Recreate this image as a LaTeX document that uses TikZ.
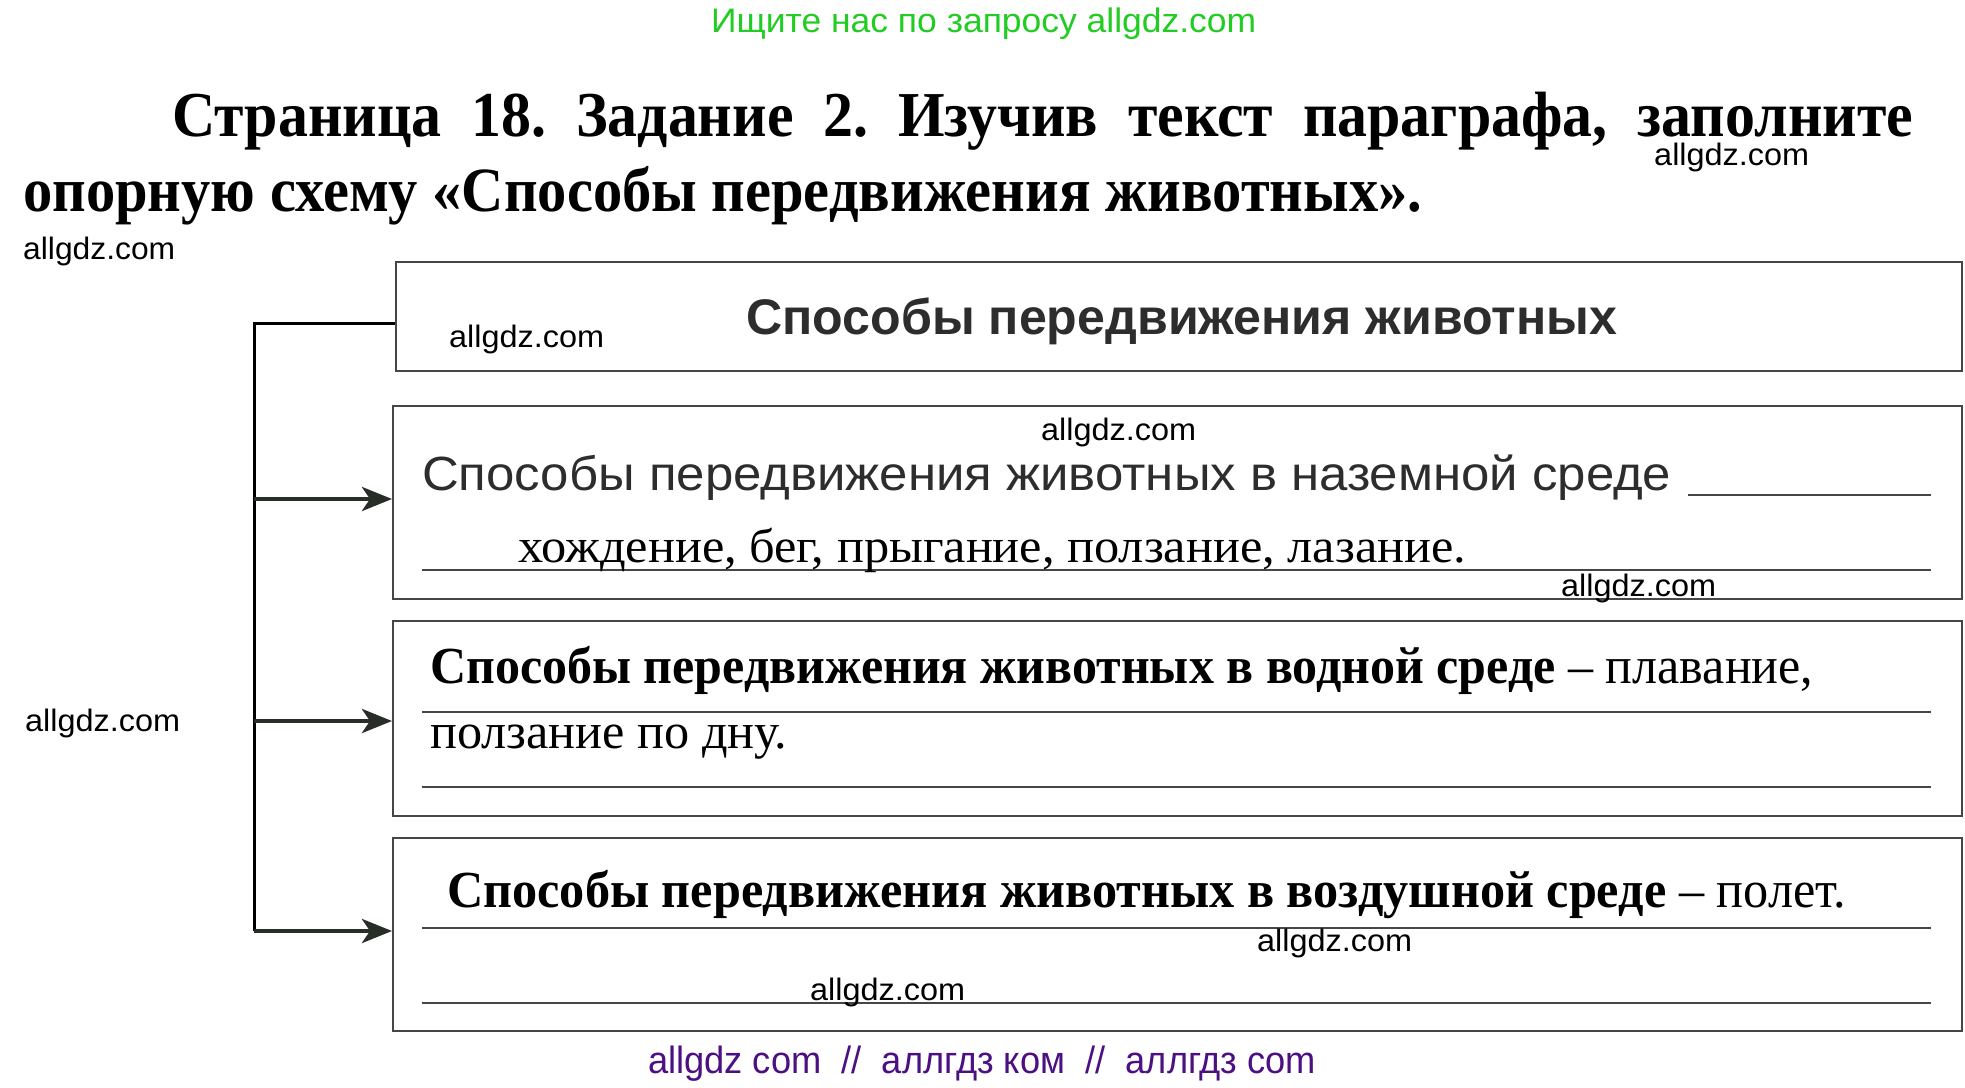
\documentclass[tikz,border=0pt]{standalone}
\usepackage{graphicx}
\usepackage{fontspec}
\setmainfont{Liberation Serif}
\setsansfont{Liberation Sans}
\usetikzlibrary{arrows.meta}
\newcommand{\fitx}[2]{\resizebox{#1}{\height}{#2}}
\definecolor{wmgreen}{RGB}{34,204,34}
\definecolor{wmpurple}{RGB}{76,16,130}
\definecolor{boxgray}{RGB}{70,70,70}
\definecolor{arrowgray}{RGB}{38,46,38}
\definecolor{textgray}{RGB}{45,45,45}
\begin{document}
\begin{tikzpicture}[x=1pt,y=-1pt,
  txt/.style={inner sep=0pt, anchor=base west},
  wm/.style={txt, font=\sffamily\fontsize{31}{31}\selectfont},
  boxst/.style={draw=boxgray, line width=2pt, anchor=north west, inner sep=0pt},
  rule/.style={draw=boxgray, line width=2.5pt},
  trunk/.style={draw=black, line width=3pt},
  arr/.style={draw=arrowgray, line width=4.5pt, -{Stealth[length=30pt,width=24pt,inset=8pt]}},
]
\useasboundingbox[fill=white] (0,0) rectangle (1965,1087);

% boxes
\node[boxst, minimum width=1566pt, minimum height=109pt] (b1) at (395,261) {};
\node[boxst, minimum width=1569pt, minimum height=193pt] (b2) at (392,405) {};
\node[boxst, minimum width=1569pt, minimum height=195pt] (b3) at (392,620) {};
\node[boxst, minimum width=1569pt, minimum height=193pt] (b4) at (392,837) {};

% trunk and arrows
\coordinate (t0) at (254,323);
\coordinate (t1) at (254,499);
\coordinate (t2) at (254,721);
\coordinate (t3) at (254,931);
\draw[trunk] (t0 -| b1.west) -- (t0) -- (t3);
\draw[arr] (t1) -- (t1 -| b2.west);
\draw[arr] (t2) -- (t2 -| b3.west);
\draw[arr] (t3) -- (t3 -| b4.west);

% writing rules
\draw[rule] (1688,495) -- (1931,495);
\draw[rule] (422,570) -- (1931,570);
\draw[rule] (422,712) -- (1931,712);
\draw[rule] (422,787) -- (1931,787);
\draw[rule] (422,928) -- (1931,928);
\draw[rule] (422,1003) -- (1931,1003);

% header texts
\node[txt, text=wmgreen, font=\sffamily\fontsize{34}{34}\selectfont] (green) at (711,32) {\fitx{545pt}{Ищите нас по запросу allgdz.com}};
\node[txt, font=\bfseries\fontsize{64}{64}\selectfont] (title1) at (172,136) {\resizebox{1741pt}{\height}{\makebox[1860pt][s]{Страница\hfill 18.\hfill Задание\hfill 2.\hfill Изучив\hfill текст\hfill параграфа,\hfill заполните}}};
\node[txt, font=\bfseries\fontsize{63}{63}\selectfont] (title2) at (23,211) {\fitx{1399pt}{опорную схему «Способы передвижения животных».}};

% box texts
\node[txt, text=textgray, font=\sffamily\bfseries\fontsize{50}{50}\selectfont] (b1t) at (746,334) {\fitx{871pt}{Способы передвижения животных}};
\node[txt, text=textgray, font=\sffamily\fontsize{48}{48}\selectfont] (b2t) at (422,490) {\fitx{1249pt}{Способы передвижения животных в наземной среде}};
\node[txt, font=\fontsize{48}{48}\selectfont] (b2a) at (518,562) {\fitx{948pt}{хождение, бег, прыгание, ползание, лазание.}};
\node[txt, font=\fontsize{52}{52}\selectfont] (b3t) at (430,683) {\fitx{1383pt}{\textbf{Способы передвижения животных в водной среде} – плавание,}};
\node[txt, font=\fontsize{50}{50}\selectfont] (b3a) at (430,748) {\fitx{357pt}{ползание по дну.}};
\node[txt, font=\fontsize{52}{52}\selectfont] (b4t) at (447,907) {\fitx{1399pt}{\textbf{Способы передвижения животных в воздушной среде} – полет.}};

% footer
\node[txt, text=wmpurple, font=\sffamily\fontsize{38}{38}\selectfont] (purple) at (648,1073) {\fitx{668pt}{allgdz com\ \ //\ \ аллгдз ком\ \ //\ \ аллгдз com}};

% watermarks
\node[wm] (w1) at (1654,165) {\fitx{155pt}{allgdz.com}};
\node[wm] (w2) at (23,259) {\fitx{152pt}{allgdz.com}};
\node[wm] (w3) at (449,347) {\fitx{155pt}{allgdz.com}};
\node[wm] (w4) at (1041,440) {\fitx{155pt}{allgdz.com}};
\node[wm] (w5) at (1561,596) {\fitx{155pt}{allgdz.com}};
\node[wm] (w6) at (25,731) {\fitx{155pt}{allgdz.com}};
\node[wm] (w7) at (1257,951) {\fitx{155pt}{allgdz.com}};
\node[wm] (w8) at (810,1000) {\fitx{155pt}{allgdz.com}};
\end{tikzpicture}
\end{document}
